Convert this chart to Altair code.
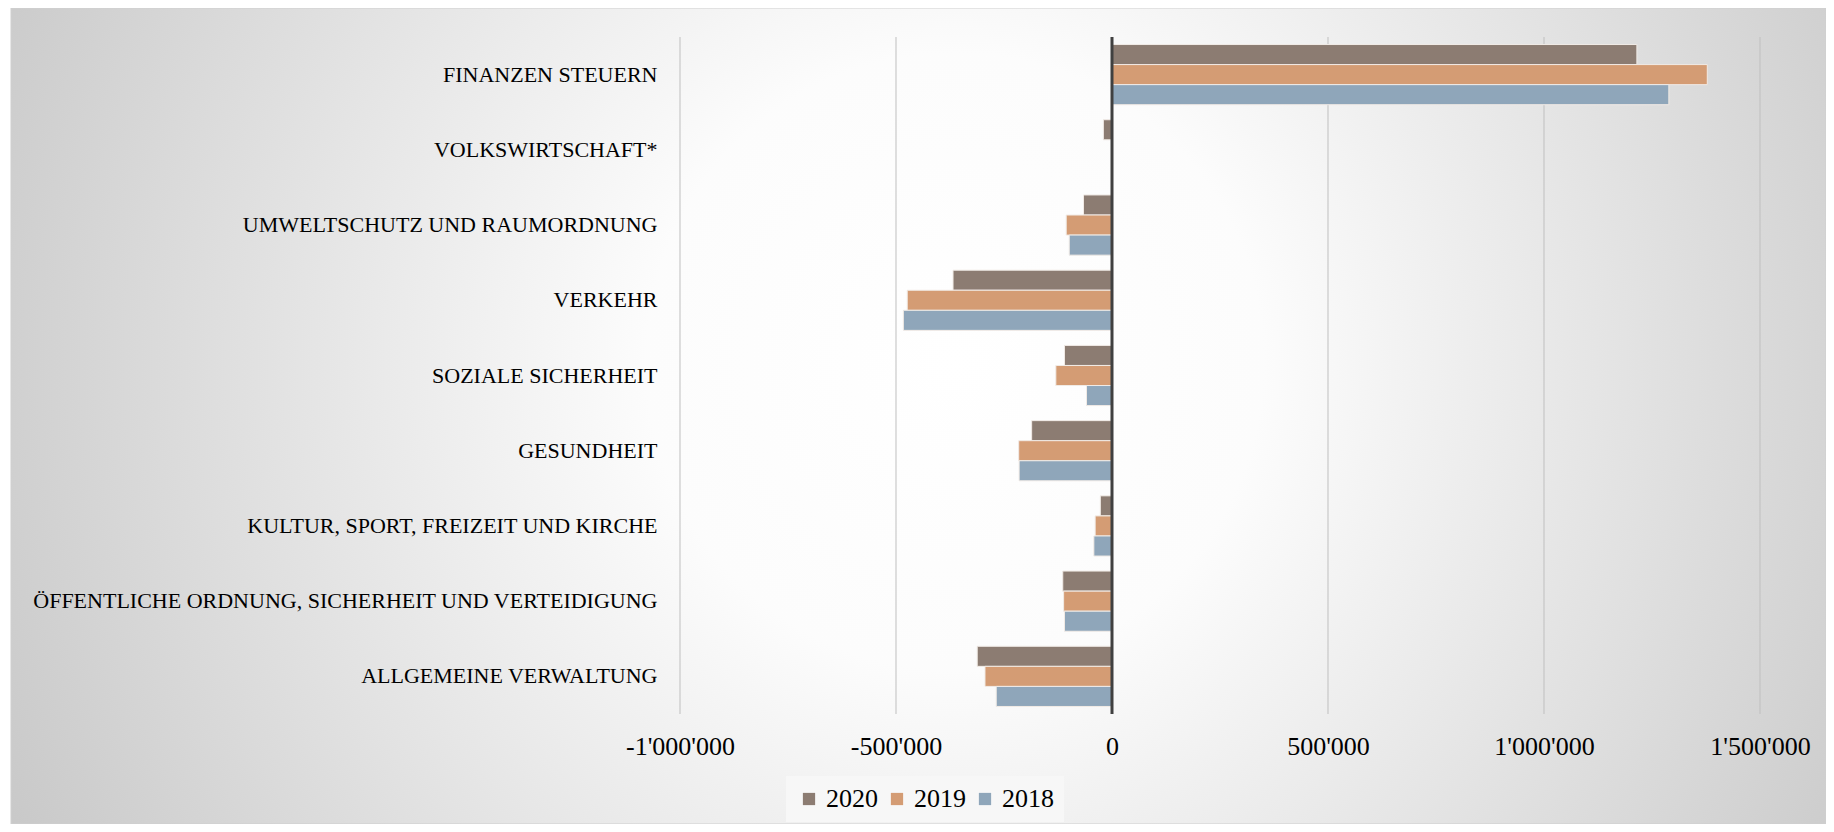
import altair as alt
import pandas as pd

categories = [
    "FINANZEN STEUERN",
    "VOLKSWIRTSCHAFT*",
    "UMWELTSCHUTZ UND RAUMORDNUNG",
    "VERKEHR",
    "SOZIALE SICHERHEIT",
    "GESUNDHEIT",
    "KULTUR, SPORT, FREIZEIT UND KIRCHE",
    "ÖFFENTLICHE ORDNUNG, SICHERHEIT UND VERTEIDIGUNG",
    "ALLGEMEINE VERWALTUNG",
]
years = ["2020", "2019", "2018"]
v2020 = [1215000, -20000, -66000, -368000, -110000, -186000, -27000, -114000, -312000]
v2019 = [1378000, 0, -106000, -474000, -130000, -216000, -39000, -112000, -294000]
v2018 = [1289000, 0, -99000, -483000, -59000, -215000, -42000, -110000, -268000]
colors = ["#8c7c72", "#d49c74", "#8fa6ba"]
ticks = [-1000000, -500000, 0, 500000, 1000000, 1500000]

rows = []
for yr, vals in zip(years, [v2020, v2019, v2018]):
    for c, v in zip(categories, vals):
        rows.append({"category": c, "year": yr, "value": v})
df = pd.DataFrame(rows)

W, H = 1080, 677
FONT = "Liberation Serif"

xscale = alt.Scale(domain=[-1000000, 1500000], nice=False, zero=False)

bg = alt.Chart(pd.DataFrame({"a": [0]})).mark_rect(
    fill=alt.RadialGradient(
        gradient="radial",
        x1=0.52, y1=0.47, r1=0.0,
        x2=0.52, y2=0.47, r2=0.68,
        stops=[
            alt.GradientStop(offset=0, color="#ffffff"),
            alt.GradientStop(offset=0.25, color="#fcfcfc"),
            alt.GradientStop(offset=1, color="#bcbcbc"),
        ],
    ),
    stroke="#cfcfcf",
    strokeWidth=1,
).encode(
    x=alt.value(-669), x2=alt.value(W + 66),
    y=alt.value(-29), y2=alt.value(H + 110),
)

grid = alt.Chart(pd.DataFrame({"value": [t for t in ticks if t != 0]})).mark_rule(
    color="#bfbfbf", strokeWidth=1
).encode(x=alt.X("value:Q", scale=xscale))

label_expr = (
    "replace(replace(format(datum.value, ','), regexp(',', 'g'), \"'\"), '\u2212', '-')"
)

bars = alt.Chart(df).mark_bar(stroke="#f1ebe6", strokeWidth=1).encode(
    y=alt.Y(
        "category:N",
        sort=categories,
        scale=alt.Scale(paddingInner=0.2, paddingOuter=0.1),
        axis=alt.Axis(
            title=None, domain=False, ticks=False, grid=False,
            labelFont=FONT, labelFontSize=22, labelColor="#000000",
            labelPadding=23, labelLimit=900, zindex=1,
        ),
    ),
    yOffset=alt.YOffset("year:N", sort=years, scale=alt.Scale(domain=years, paddingInner=0, paddingOuter=0)),
    x=alt.X(
        "value:Q",
        scale=xscale,
        axis=alt.Axis(
            title=None, values=ticks, grid=False, domain=False, ticks=False,
            labelFont=FONT, labelFontSize=26, labelColor="#000000",
            labelPadding=19, zindex=1, labelFlush=False, labelOverlap=False,
            labelExpr=label_expr,
        ),
    ),
    color=alt.Color(
        "year:N",
        sort=years,
        scale=alt.Scale(domain=years, range=colors),
        legend=alt.Legend(
            title=None, orient="none", direction="horizontal",
            legendX=106, legendY=739,
            fillColor="#f7f7f7", padding=10,
            symbolType="square", symbolSize=150, symbolStrokeWidth=0, symbolOpacity=1,
            labelFont=FONT, labelFontSize=26, labelColor="#000000",
            labelOffset=4, columnPadding=6,
        ),
    ),
)

zero = alt.Chart(pd.DataFrame({"value": [0]})).mark_rule(
    color="#404040", strokeWidth=3
).encode(x=alt.X("value:Q", scale=xscale))

chart = alt.layer(bg, grid, bars, zero).properties(
    width=W, height=H,
    padding={"left": 672, "top": 29, "right": 66, "bottom": 110},
    autosize=alt.AutoSizeParams(type="none"),
).configure_view(stroke=None).configure(
    background="white", font=FONT
).configure_legend(labelFont=FONT, labelFontSize=26).configure_axis(labelFont=FONT)

chart.save("out.html", embed_options={"renderer": "svg", "actions": False})
